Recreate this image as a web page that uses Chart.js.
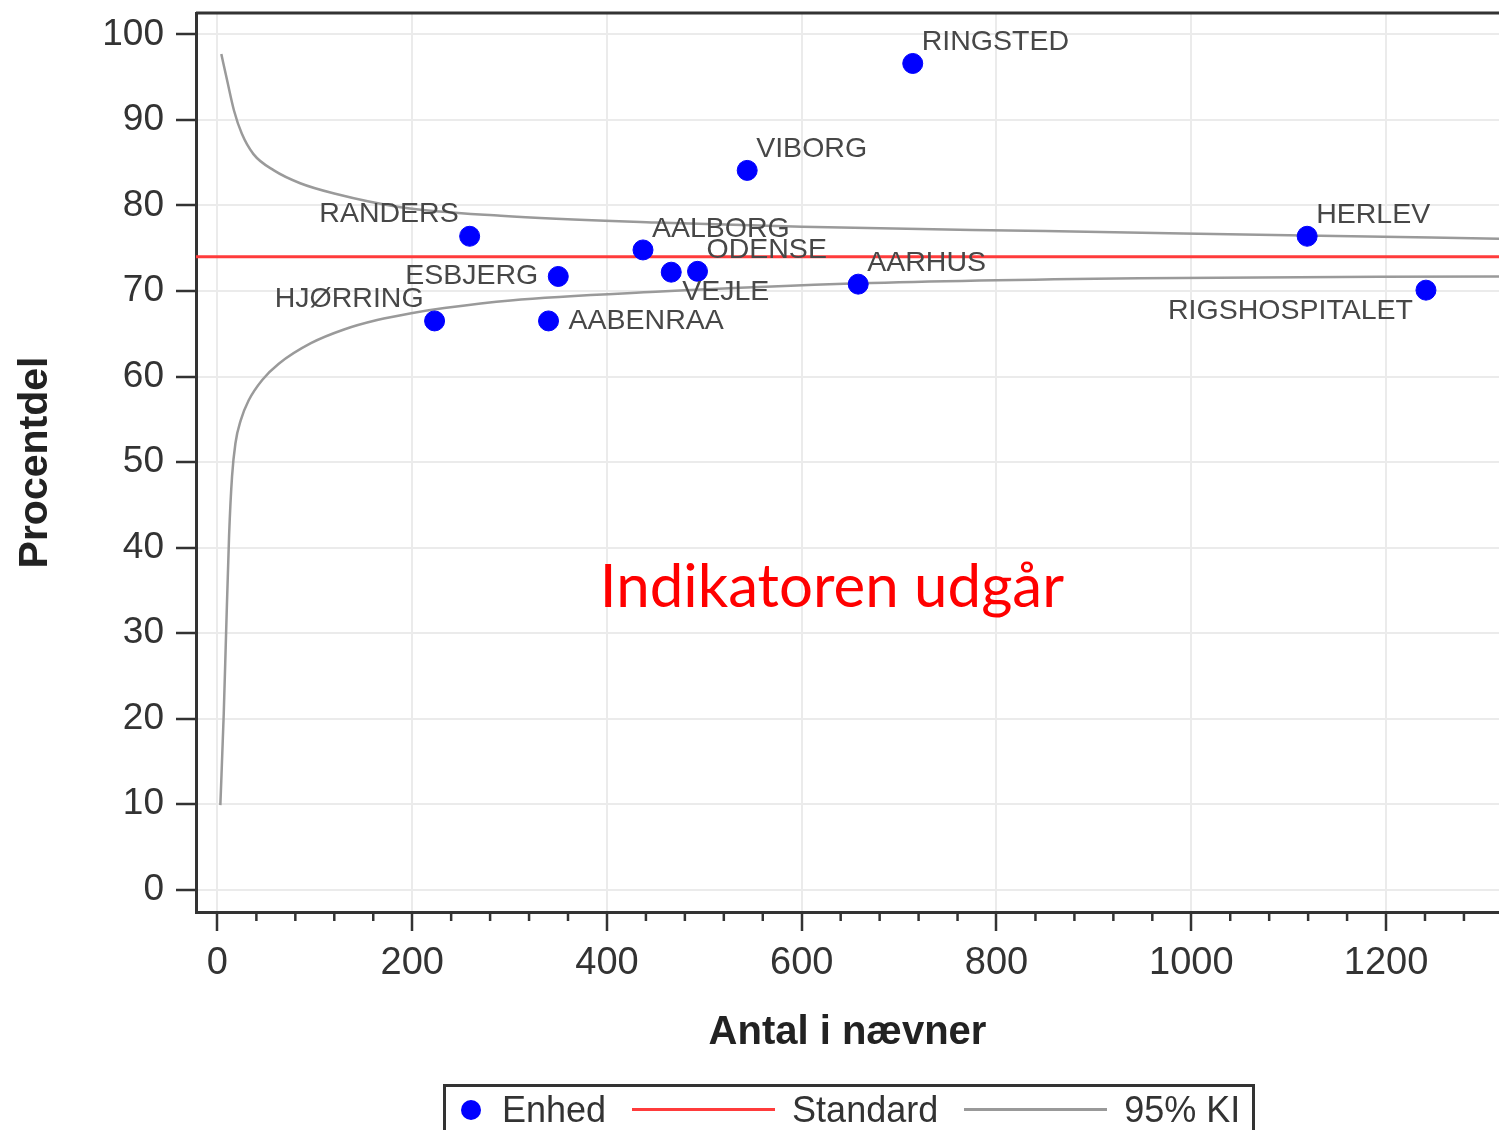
<!DOCTYPE html>
<html>
<head>
<meta charset="utf-8">
<script src="https://cdn.jsdelivr.net/npm/chart.js@4.4.1/dist/chart.umd.min.js"></script>
<style>
  body { margin: 0; background: #fff; overflow: hidden; }
  #wrap { position: relative; width: 1499px; height: 1130px; }
  #legend {
    position: absolute; left: 443px; top: 1084px; width: 812px; height: 48px;
    box-sizing: border-box; border: 3px solid #333; border-bottom: none;
    font: 36px 'Liberation Sans', Arial, sans-serif; color: #333;
    display: flex; align-items: center; white-space: nowrap;
  }
  #legend .dot { width: 20px; height: 20px; border-radius: 50%; background: #0000ff; margin: 0 21px 0 15px; }
  #legend .line { width: 143px; height: 3px; margin: 0 17px 0 26px; }
</style>
</head>
<body>
<div id="wrap">
  <canvas id="chart" width="1499" height="1130"></canvas>
  <div id="legend">
    <span class="dot"></span><span>Enhed</span>
    <span class="line" style="background:#ff3b3b"></span><span>Standard</span>
    <span class="line" style="background:#999"></span><span>95% KI</span>
  </div>
</div>
<script>
// units (dots)
const units = ['RINGSTED', 'VIBORG', 'RANDERS', 'HERLEV', 'AALBORG', 'ODENSE',
  'VEJLE', 'ESBJERG', 'AARHUS', 'HJØRRING', 'AABENRAA', 'RIGSHOSPITALET']
const unitN = [714, 544, 259, 1119, 437, 493, 466, 350, 658, 223, 340, 1241]
const unitPct = [96.6, 84.1, 76.4, 76.4, 74.8, 72.3, 72.2, 71.7, 70.8, 66.5, 66.5, 70.1]

// standard
const standardPct = 74

// 95% KI limits
const upperN = [4, 10, 17, 25, 37, 58, 85, 120, 188, 291, 450, 600, 850, 1116, 1320]
const upperPct = [97.7, 94.6, 91.1, 88.4, 86.0, 84.1, 82.6, 81.4, 79.8, 78.8, 78.0, 77.5, 77.0, 76.5, 76.1]
const lowerN = [3, 6.5, 9, 12, 15, 18.5, 24, 32, 46, 63, 96, 130, 164, 199, 233, 301, 450, 658, 946, 1320]
const lowerPct = [9.9, 20.6, 30.4, 41.5, 48.3, 52.2, 54.9, 57.2, 59.6, 61.5, 63.9, 65.5, 66.6, 67.4, 68.0, 68.9, 69.9, 70.9, 71.5, 71.7]

// axes
const xMin = -22, xMax = 1316
const yMin = -2.6, yMax = 102.5

const FONT = "'Liberation Sans', Arial, sans-serif"

// where each unit's name sits around its dot
const labelPos = {
  RINGSTED: 'ne', VIBORG: 'ne', RANDERS: 'nw', HERLEV: 'ne', AALBORG: 'ne',
  ODENSE: 'ne', VEJLE: 'se', ESBJERG: 'w', AARHUS: 'ne', HJØRRING: 'nw',
  AABENRAA: 'e', RIGSHOSPITALET: 'sw'
}
const offsets = {
  ne: [9, -21, 'left'], nw: [-11, -22, 'right'], e: [20, 0, 'left'],
  w: [-20, 0, 'right'], se: [11, 20, 'left'], sw: [-13, 21, 'right']
}

const pointLabels = {
  id: 'point-labels',
  afterDatasetsDraw(chart) {
    const { ctx } = chart
    const meta = chart.getDatasetMeta(0)
    ctx.save()
    ctx.font = `28.5px ${FONT}`
    ctx.fillStyle = '#474747'
    ctx.textBaseline = 'middle'
    meta.data.forEach((pt, i) => {
      const [dx, dy, align] = offsets[labelPos[units[i]]]
      ctx.textAlign = align
      ctx.fillText(units[i], pt.x + dx, pt.y + dy)
    })
    ctx.restore()
  }
}

const frame = {
  id: 'frame',
  afterDraw(chart) {
    const { ctx, chartArea, scales } = chart
    ctx.save()
    // top border
    ctx.strokeStyle = '#333'
    ctx.lineWidth = 3
    ctx.beginPath()
    ctx.moveTo(chartArea.left, chartArea.top)
    ctx.lineTo(chartArea.right, chartArea.top)
    ctx.stroke()
    // minor ticks on x
    ctx.lineWidth = 2.5
    for (let v = 40; v <= xMax; v += 40) {
      if (v % 200 === 0) continue
      const x = scales.x.getPixelForValue(v)
      ctx.beginPath()
      ctx.moveTo(x, chartArea.bottom)
      ctx.lineTo(x, chartArea.bottom + 9)
      ctx.stroke()
    }
    // note
    ctx.font = `60px Lato, 'Open Sans', sans-serif`
    ctx.fillStyle = '#ff0000'
    ctx.textAlign = 'center'
    ctx.textBaseline = 'middle'
    ctx.fillText('Indikatoren udgår', scales.x.getPixelForValue(631), scales.y.getPixelForValue(35.3))
    ctx.restore()
  }
}

new Chart(document.getElementById('chart'), {
  type: 'scatter',
  data: {
    datasets: [
      {
        label: 'Enhed',
        data: unitN.map((n, i) => ({ x: n, y: unitPct[i] })),
        backgroundColor: '#0000ff',
        borderColor: '#0000ff',
        pointRadius: 10,
        pointHoverRadius: 10
      },
      {
        label: 'Standard',
        type: 'line',
        data: [{ x: xMin, y: standardPct }, { x: xMax, y: standardPct }],
        borderColor: '#ff3b3b',
        borderWidth: 3,
        pointRadius: 0
      },
      {
        label: '95% KI',
        type: 'line',
        data: upperN.map((n, i) => ({ x: n, y: upperPct[i] })),
        borderColor: '#9a9a9a',
        borderWidth: 2.5,
        pointRadius: 0,
        cubicInterpolationMode: 'monotone'
      },
      {
        label: '95% KI nedre',
        type: 'line',
        data: lowerN.map((n, i) => ({ x: n, y: lowerPct[i] })),
        borderColor: '#9a9a9a',
        borderWidth: 2.5,
        pointRadius: 0,
        cubicInterpolationMode: 'monotone'
      }
    ]
  },
  options: {
    responsive: false,
    animation: false,
    devicePixelRatio: 1,
    layout: { autoPadding: false, padding: { top: 13, right: 0, left: 0, bottom: 68 } },
    plugins: {
      legend: { display: false },
      tooltip: { enabled: false }
    },
    scales: {
      x: {
        type: 'linear',
        min: xMin,
        max: xMax,
        afterFit(scale) {
          scale.height = 150
          scale.paddingLeft = 0
          scale.paddingRight = 0
        },
        border: { color: '#333', width: 3 },
        grid: { color: '#ebebeb', lineWidth: 2, tickColor: '#333', tickWidth: 2.5, tickLength: 19 },
        ticks: {
          stepSize: 200,
          includeBounds: false,
          padding: 10,
          color: '#333',
          font: { family: FONT, size: 38 },
          callback: v => String(v)
        },
        title: {
          display: true,
          text: 'Antal i nævner',
          color: '#222',
          padding: { top: 0, bottom: 5 },
          font: { family: FONT, size: 40, weight: 'bold' }
        }
      },
      y: {
        min: yMin,
        max: yMax,
        afterFit(scale) {
          scale.width = 196
          scale.paddingTop = 0
          scale.paddingBottom = 0
        },
        border: { color: '#333', width: 3 },
        grid: { color: '#ebebeb', lineWidth: 2, tickColor: '#333', tickWidth: 2.5, tickLength: 20 },
        ticks: {
          stepSize: 10,
          includeBounds: false,
          padding: 12,
          color: '#333',
          font: { family: FONT, size: 37 },
          callback: v => String(v)
        },
        title: {
          display: true,
          text: 'Procentdel',
          color: '#222',
          padding: { top: 11, bottom: 0 },
          font: { family: FONT, size: 41, weight: 'bold' }
        }
      }
    }
  },
  plugins: [pointLabels, frame]
})
</script>
</body>
</html>
